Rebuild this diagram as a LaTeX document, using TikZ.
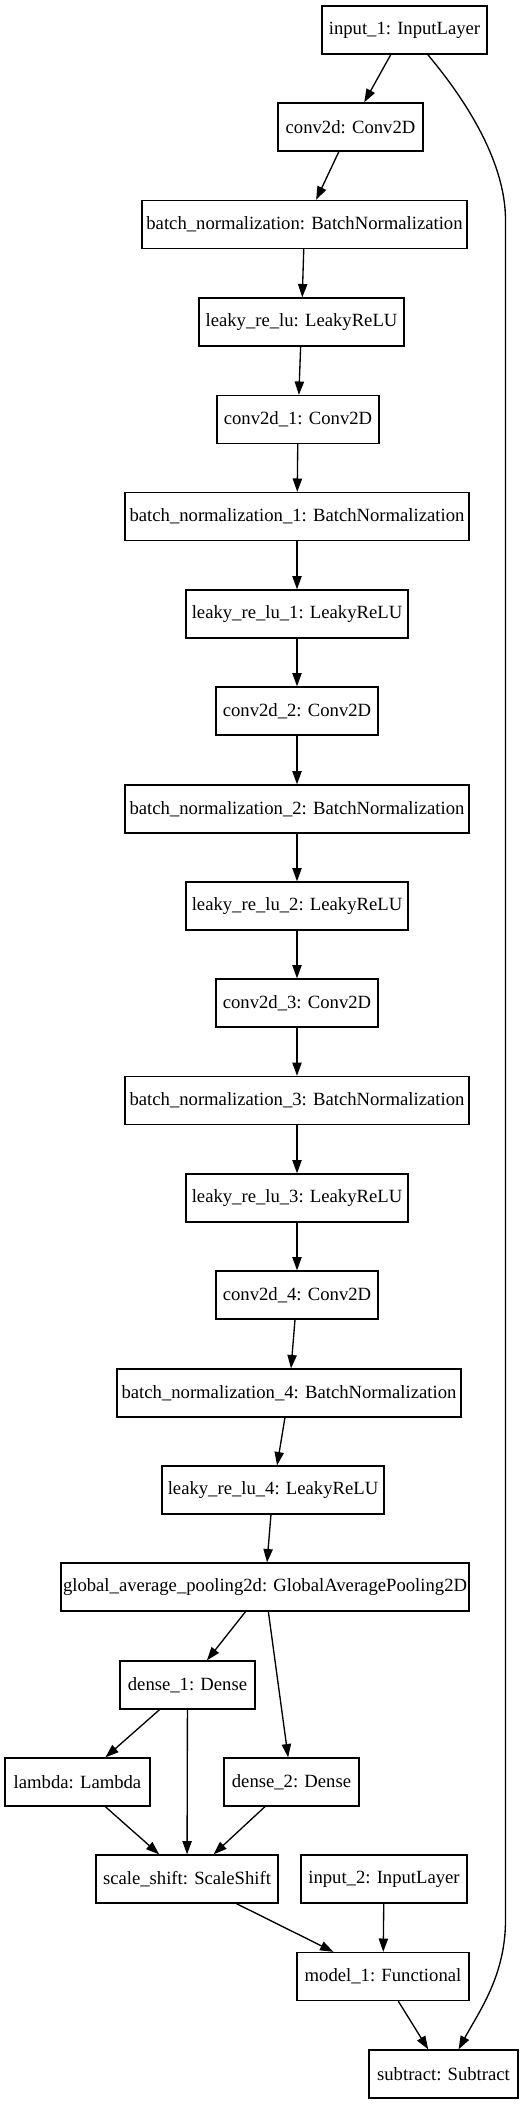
\documentclass[tikz,border=0pt]{standalone}
\usepackage{fontspec}
\setmainfont{Liberation Serif}
\usetikzlibrary{arrows.meta,calc}
\begin{document}
\begin{tikzpicture}[x=0.75pt,y=-0.75pt,
  layer/.style={draw=black, line width=1pt, rectangle, inner sep=0pt,
    minimum height=36pt, font=\fontsize{14}{16}\selectfont},
  edge/.style={line width=1pt, -{Triangle[length=10pt,width=7pt]}}]
\useasboundingbox (0,0) rectangle (528,2104);
\fill[white] (0,0) rectangle (528,2104);
\node[layer, minimum width=123.75pt] (in1) at (404.5,30) {input\_1: InputLayer};
\node[layer, minimum width=108.75pt] (conv) at (350.5,127) {conv2d: Conv2D};
\node[layer, minimum width=243.75pt] (bn) at (304.5,224.5) {batch\_normalization: BatchNormalization};
\node[layer, minimum width=153.75pt] (lr) at (301.5,322) {leaky\_re\_lu: LeakyReLU};
\node[layer, minimum width=121.5pt] (c1) at (298,419.5) {conv2d\_1: Conv2D};
\node[layer, minimum width=258pt] (bn1) at (297,516.5) {batch\_normalization\_1: BatchNormalization};
\node[layer, minimum width=166.5pt] (lr1) at (297,614) {leaky\_re\_lu\_1: LeakyReLU};
\node[layer, minimum width=121.5pt] (c2) at (297,711) {conv2d\_2: Conv2D};
\node[layer, minimum width=258pt] (bn2) at (297,809) {batch\_normalization\_2: BatchNormalization};
\node[layer, minimum width=166.5pt] (lr2) at (297,906) {leaky\_re\_lu\_2: LeakyReLU};
\node[layer, minimum width=121.5pt] (c3) at (297,1003) {conv2d\_3: Conv2D};
\node[layer, minimum width=258pt] (bn3) at (297,1100.5) {batch\_normalization\_3: BatchNormalization};
\node[layer, minimum width=166.5pt] (lr3) at (297,1198) {leaky\_re\_lu\_3: LeakyReLU};
\node[layer, minimum width=121.5pt] (c4) at (297,1295) {conv2d\_4: Conv2D};
\node[layer, minimum width=258pt] (bn4) at (289,1393) {batch\_normalization\_4: BatchNormalization};
\node[layer, minimum width=166.5pt] (lr4) at (273,1490) {leaky\_re\_lu\_4: LeakyReLU};
\node[layer, minimum width=306pt] (gap) at (265,1587) {global\_average\_pooling2d: GlobalAveragePooling2D};
\node[layer, minimum width=101.25pt] (d1) at (187.5,1685) {dense\_1: Dense};
\node[layer, minimum width=108.75pt] (lam) at (77.5,1782) {lambda: Lambda};
\node[layer, minimum width=101.25pt] (d2) at (291.5,1782) {dense\_2: Dense};
\node[layer, minimum width=136.5pt] (ss) at (187,1879) {scale\_shift: ScaleShift};
\node[layer, minimum width=124.5pt] (in2) at (384,1879) {input\_2: InputLayer};
\node[layer, minimum width=129pt] (m1) at (383,1976.5) {model\_1: Functional};
\node[layer, minimum width=111.75pt] (sub) at (443.5,2074) {subtract: Subtract};
\draw[edge] (in1) -- (conv);
\draw[edge] (conv) -- (bn);
\draw[edge] (bn) -- (lr);
\draw[edge] (lr) -- (c1);
\draw[edge] (c1) -- (bn1);
\draw[edge] (bn1) -- (lr1);
\draw[edge] (lr1) -- (c2);
\draw[edge] (c2) -- (bn2);
\draw[edge] (bn2) -- (lr2);
\draw[edge] (lr2) -- (c3);
\draw[edge] (c3) -- (bn3);
\draw[edge] (bn3) -- (lr3);
\draw[edge] (lr3) -- (c4);
\draw[edge] (c4) -- (bn4);
\draw[edge] (bn4) -- (lr4);
\draw[edge] (lr4) -- (gap);
\draw[edge] (gap) -- (d1);
\draw[edge] (gap) -- (d2);
\draw[edge] (d1) -- (lam);
\draw[edge] (d1) -- (ss);
\draw[edge] (lam) -- (ss);
\draw[edge] (d2) -- (ss);
\draw[edge] (ss) -- (m1);
\draw[edge] (in2) -- (m1);
\draw[edge] (m1) -- (sub);
\draw[edge] ($(in1.south west)!0.64!(in1.south east)$)
  .. controls (470,105) and (505.5,165) .. (505.5,220)
  -- (505.5,1920)
  .. controls (505.5,1975) and (480,2010) .. ($(sub.north west)!0.6!(sub.north east)$);
\end{tikzpicture}
\end{document}
